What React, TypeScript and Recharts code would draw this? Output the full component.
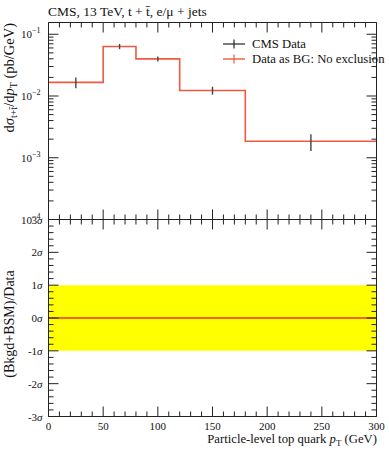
import { ComposedChart, Line, XAxis, YAxis, Scatter, ErrorBar, ReferenceArea } from "recharts";

// binned top-quark pT spectrum (pb/GeV)
const binEdges = [0, 50, 80, 120, 180, 300];
const mcValues = [0.0166, 0.0635, 0.04, 0.0123, 0.00185];
const binCentres = [25, 65, 100, 150, 240];
const dataValues = [0.0166, 0.0635, 0.04, 0.0123, 0.00185];
const dataErrors = [0.0033, 0.0062, 0.0038, 0.0018, 0.00056];
const pulls = [0, 0, 0, 0, 0];
const bandLow = -1;
const bandHigh = 1;

const xMajor = [0, 50, 100, 150, 200, 250, 300];
const logMajor = [1e-4, 1e-3, 1e-2, 1e-1];
const sigmaMajor = [-3, -2, -1, 0, 1, 2, 3];

const TITLE = "CMS, 13 TeV, t + t\u0304, e/\u03bc + jets";
const DATA_NAME = "CMS Data";
const MC_NAME = "Data as BG: No exclusion";

const FONT = "'Liberation Serif', serif";
const AXIS = "#222";
const RED = "#ee5a40";

const xTicks: number[] = [];
for (let v = 0; v <= 300; v += 10) xTicks.push(v);
const logTicks: number[] = [];
logMajor.forEach((d) => {
  for (let k = 1; k < 10; k++) if (d * k <= 0.155) logTicks.push(d * k);
});
const sigmaTicks: number[] = [];
for (let i = -15; i <= 15; i++) sigmaTicks.push(i / 5);

const histRows = binEdges.map((x, i) => ({ x, y: mcValues[Math.min(i, mcValues.length - 1)] }));
const pointRows = binCentres.map((x, i) => ({ x, y: dataValues[i], err: dataErrors[i] }));
const pullRows = binEdges.map((x, i) => ({ x, y: pulls[Math.min(i, pulls.length - 1)] }));

function xTick(side: "top" | "bottom", labels: boolean) {
  return (props: any) => {
    const { x, y, payload } = props;
    const v = payload.value;
    const major = xMajor.includes(v);
    const len = major ? 10 : 5;
    const dir = side === "bottom" ? -1 : 1;
    return (
      <g>
        <line x1={x} x2={x} y1={y} y2={y + dir * len} stroke={AXIS} strokeWidth={1} />
        {labels && major && (
          <text x={x} y={y + 13.5} textAnchor="middle" fontSize={11} style={{ fontFamily: FONT }} fill="#111">
            {v}
          </text>
        )}
      </g>
    );
  };
}

function logTick(side: "left" | "right") {
  return (props: any) => {
    const { x, y, payload } = props;
    const v = payload.value;
    const e = Math.round(Math.log10(v));
    const major = Math.abs(Math.log10(v) - e) < 1e-6;
    const len = major ? 10 : 5;
    const dir = side === "left" ? 1 : -1;
    return (
      <g>
        <line x1={x} x2={x + dir * len} y1={y} y2={y} stroke={AXIS} strokeWidth={1} />
        {side === "left" && major && (
          <text x={x - 8} y={y + 4} textAnchor="end" fontSize={11} style={{ fontFamily: FONT }} fill="#111">
            10
            <tspan dy={-5} fontSize={8}>
              {"\u2212" + Math.abs(e)}
            </tspan>
          </text>
        )}
      </g>
    );
  };
}

function sigmaTick(side: "left" | "right") {
  return (props: any) => {
    const { x, y, payload } = props;
    const v = payload.value;
    const major = sigmaMajor.some((m) => Math.abs(m - v) < 1e-6);
    const len = major ? 10 : 5;
    const dir = side === "left" ? 1 : -1;
    return (
      <g>
        <line x1={x} x2={x + dir * len} y1={y} y2={y} stroke={AXIS} strokeWidth={1} />
        {side === "left" && major && (
          <text x={x - 6} y={y + 4} textAnchor="end" fontSize={11} style={{ fontFamily: FONT }} fill="#111">
            {Math.round(v)}
            <tspan fontStyle="italic">{"\u03c3"}</tspan>
          </text>
        )}
      </g>
    );
  };
}

const axisCommon = {
  type: "number" as const,
  allowDataOverflow: true,
  interval: 0 as const,
  tickSize: 0,
  tickMargin: 0,
  tickLine: false,
  axisLine: { stroke: AXIS, strokeWidth: 1 },
};

export default function App() {
  return (
    <div style={{ position: "absolute", left: 0, top: 0, width: 389, height: 450, background: "#fff" }}>
      <div style={{ position: "absolute", left: 0, top: 0 }}>
        <ComposedChart width={389} height={232} margin={{ top: 21.5, right: 11.5, bottom: 11.5, left: 47.5 }}>
          <XAxis xAxisId="b" dataKey="x" orientation="bottom" domain={[0, 300]} ticks={xTicks} height={1} tick={xTick("bottom", false)} {...axisCommon} />
          <XAxis xAxisId="t" dataKey="x" orientation="top" domain={[0, 300]} ticks={xTicks} height={1} tick={xTick("top", false)} {...axisCommon} />
          <YAxis yAxisId="l" dataKey="y" orientation="left" scale="log" domain={[1e-4, 0.155]} ticks={logTicks} width={1} tick={logTick("left")} {...axisCommon} />
          <YAxis yAxisId="r" dataKey="y" orientation="right" scale="log" domain={[1e-4, 0.155]} ticks={logTicks} width={1} tick={logTick("right")} {...axisCommon} />
          <Line
            xAxisId="b"
            yAxisId="l"
            data={histRows}
            dataKey="y"
            type="stepAfter"
            stroke={RED}
            strokeWidth={1.6}
            dot={false}
            isAnimationActive={false}
          />
          <Scatter xAxisId="b" yAxisId="l" data={pointRows} dataKey="y" shape={() => <g />} isAnimationActive={false}>
            <ErrorBar dataKey="err" direction="y" width={0} stroke="#444" strokeWidth={1.4} isAnimationActive={false} />
          </Scatter>
        </ComposedChart>
      </div>
      <div style={{ position: "absolute", left: 0, top: 0 }}>
        <ComposedChart width={389} height={450} margin={{ top: 218.5, right: 11.5, bottom: 32.5, left: 47.5 }}>
          <XAxis xAxisId="b" dataKey="x" orientation="bottom" domain={[0, 300]} ticks={xTicks} height={1} tick={xTick("bottom", true)} {...axisCommon} />
          <XAxis xAxisId="t" dataKey="x" orientation="top" domain={[0, 300]} ticks={xTicks} height={1} tick={xTick("top", false)} {...axisCommon} />
          <YAxis yAxisId="l" dataKey="y" orientation="left" domain={[-3, 3]} ticks={sigmaTicks} width={1} tick={sigmaTick("left")} {...axisCommon} />
          <YAxis yAxisId="r" dataKey="y" orientation="right" domain={[-3, 3]} ticks={sigmaTicks} width={1} tick={sigmaTick("right")} {...axisCommon} />
          <ReferenceArea xAxisId="b" yAxisId="l" x1={0} x2={300} y1={bandLow} y2={bandHigh} fill="#ffff00" fillOpacity={1} stroke="none" />
          <Line
            xAxisId="b"
            yAxisId="l"
            data={pullRows}
            dataKey="y"
            type="stepAfter"
            stroke="#e8361c"
            strokeWidth={1.3}
            dot={false}
            isAnimationActive={false}
          />
        </ComposedChart>
      </div>
      <svg width={389} height={450} style={{ position: "absolute", left: 0, top: 0, pointerEvents: "none", fontFamily: FONT }}>
        <text x={48} y={15.5} fontSize={13.5} fill="#111">
          {TITLE}
        </text>
        <line x1={223} x2={245} y1={44} y2={44} stroke="#222" strokeWidth={1.2} />
        <line x1={234} x2={234} y1={39.5} y2={48.5} stroke="#222" strokeWidth={1.2} />
        <text x={252} y={48} fontSize={12.7} fill="#111">
          {DATA_NAME}
        </text>
        <line x1={223} x2={245} y1={59} y2={59} stroke={RED} strokeWidth={1.4} />
        <line x1={234} x2={234} y1={54.5} y2={63.5} stroke={RED} strokeWidth={1.2} />
        <text x={252} y={63} fontSize={12.7} fill="#111">
          {MC_NAME}
        </text>
        <text transform="translate(14,23) rotate(-90)" textAnchor="end" fontSize={14.5} fill="#111">
          d<tspan fontStyle="italic">{"\u03c3"}</tspan>
          <tspan dy={3} fontSize={10}>{"t+t\u0304"}</tspan>
          <tspan dy={-3}>/d</tspan>
          <tspan fontStyle="italic">p</tspan>
          <tspan dy={3} fontSize={10}>T</tspan>
          <tspan dy={-3}> (pb/GeV)</tspan>
        </text>
        <text transform="translate(14,324) rotate(-90)" textAnchor="middle" fontSize={14} fill="#111">
          (Bkgd+BSM)/Data
        </text>
        <text x={377} y={443} textAnchor="end" fontSize={12.7} fill="#111">
          Particle-level top quark <tspan fontStyle="italic">p</tspan>
          <tspan dy={3} fontSize={9}>T</tspan>
          <tspan dy={-3}> (GeV)</tspan>
        </text>
      </svg>
    </div>
  );
}
